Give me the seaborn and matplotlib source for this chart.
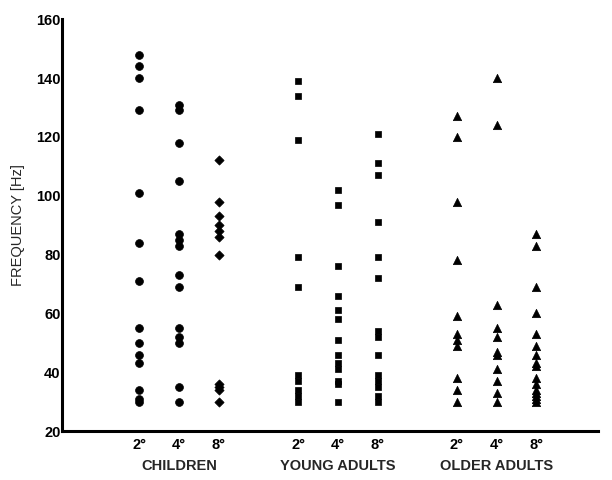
import pandas as pd
import matplotlib
matplotlib.use("Agg")
import matplotlib.pyplot as plt
import seaborn as sns

# values (Hz)
groups = ["CHILDREN", "YOUNG ADULTS", "OLDER ADULTS"]
angles = ["2°", "4°", "8°"]

children_2 = [148, 144, 140, 129, 101, 84, 71, 55, 50, 46, 43, 34, 31, 30]
children_4 = [131, 129, 118, 105, 87, 85, 83, 73, 69, 55, 52, 50, 35, 30]
children_8 = [112, 98, 93, 90, 88, 86, 80, 36, 35, 34, 30]

young_2 = [139, 134, 119, 79, 69, 39, 37, 34, 32, 30]
young_4 = [102, 97, 76, 66, 61, 58, 51, 46, 43, 41, 37, 36, 30]
young_8 = [121, 111, 107, 91, 79, 72, 54, 52, 46, 39, 37, 35, 32, 30]

older_2 = [127, 120, 98, 78, 59, 53, 51, 49, 38, 34, 30]
older_4 = [140, 124, 63, 55, 52, 47, 46, 41, 37, 33, 30]
older_8 = [87, 83, 69, 60, 53, 49, 46, 43, 42, 38, 36, 34, 33, 32, 31, 30]

series = [
    ("CHILDREN", "2°", children_2, "o"),
    ("CHILDREN", "4°", children_4, "o"),
    ("CHILDREN", "8°", children_8, "D"),
    ("YOUNG ADULTS", "2°", young_2, "s"),
    ("YOUNG ADULTS", "4°", young_4, "s"),
    ("YOUNG ADULTS", "8°", young_8, "s"),
    ("OLDER ADULTS", "2°", older_2, "^"),
    ("OLDER ADULTS", "4°", older_4, "^"),
    ("OLDER ADULTS", "8°", older_8, "^"),
]

rows = []
for grp, ang, vals, mk in series:
    pos = groups.index(grp) * 4 + angles.index(ang)
    for v in vals:
        rows.append({"group": grp, "angle": ang, "pos": pos, "freq": v, "marker": mk})
df = pd.DataFrame(rows)

sns.set_style("white")
plt.rcParams["font.family"] = ["Liberation Sans", "DejaVu Sans"]

fig = plt.figure(figsize=(6.12, 4.8), dpi=100)
ax = fig.add_axes([0.101, 0.102, 0.876, 0.858])

sizes = {"o": 32, "D": 22, "s": 20, "^": 36}
for mk, sub in df.groupby("marker"):
    sns.scatterplot(data=sub, x="pos", y="freq", marker=mk, s=sizes[mk],
                    color="black", edgecolor="black", linewidth=0.5,
                    legend=False, ax=ax, zorder=3)

ax.set_xlim(-1.95, 11.55)
ax.set_ylim(20, 160)
ax.set_yticks(range(20, 161, 20))

tick_pos = [g * 4 + a for g in range(3) for a in range(3)]
ax.set_xticks(tick_pos)
ax.set_xticklabels(angles * 3, fontsize=10.5, fontweight="bold")
for lbl in ax.get_yticklabels():
    lbl.set_fontsize(10.5)
    lbl.set_fontweight("bold")

for g, name in enumerate(groups):
    ax.text(g * 4 + 1, -0.068, name, transform=ax.get_xaxis_transform(),
            ha="center", va="top", fontsize=10.5, fontweight="bold")

ax.set_xlabel("")
ax.set_ylabel("FREQUENCY [Hz]", fontsize=10.5, labelpad=8)

sns.despine(ax=ax)
for side in ["left", "bottom"]:
    ax.spines[side].set_linewidth(2.2)
    ax.spines[side].set_color("black")
ax.tick_params(direction="in", length=3.5, width=2.2, pad=1, colors="black")
ax.tick_params(axis="x", pad=5)

fig.savefig("out.png", dpi=100)
